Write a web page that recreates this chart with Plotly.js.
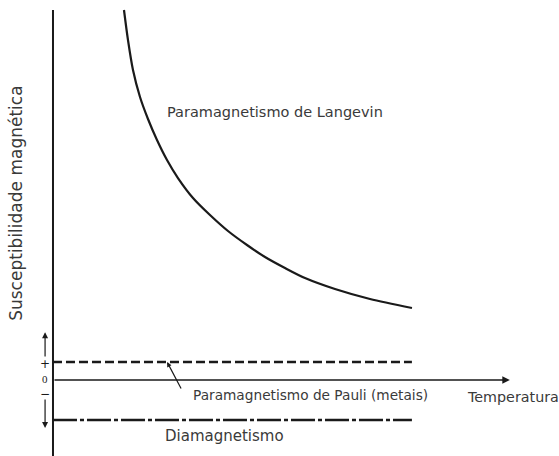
<!DOCTYPE html>
<html><head><meta charset="utf-8">
<script src="https://cdn.plot.ly/plotly-3.0.1.min.js"></script>
<style>html,body{margin:0;padding:0;background:#fff;}</style>
</head><body><div id="chart" style="width:559px;height:456px;"></div>
<script>
// Langevin paramagnetism curve (temperature, susceptibility)
const langevinT   = [1.972, 2.083, 2.222, 2.417, 2.639, 2.889, 3.167, 3.472, 3.889, 4.361, 4.861, 5.389, 5.889, 6.444, 7.0, 7.833, 8.806, 9.972];
const langevinChi = [10.278, 9.444, 8.611, 7.861, 7.25, 6.667, 6.111, 5.611, 5.056, 4.583, 4.139, 3.75, 3.417, 3.111, 2.833, 2.528, 2.25, 2.0];
// Pauli paramagnetism (constant, positive)
const pauliT   = [0, 9.97];
const pauliChi = [0.5, 0.5];
// Diamagnetism (constant, negative)
const diaT   = [0, 9.97];
const diaChi = [-1.11, -1.11];
// Labels
const labels = {
  langevin: "Paramagnetismo de Langevin",
  pauli: "Paramagnetismo de Pauli (metais)",
  dia: "Diamagnetismo",
  xTitle: "Temperatura",
  yTitle: "Susceptibilidade magnética"
};

const FONT = "'DejaVu Sans', sans-serif";
const ink = "#1a1a1a";
const txt = "#3a3a3a";

const traces = [
  {x: langevinT, y: langevinChi, mode: "lines", line: {color: ink, width: 2.2, shape: "spline", smoothing: 0.8}, hoverinfo: "skip"},
  {x: pauliT, y: pauliChi, mode: "lines", line: {color: ink, width: 2.5, dash: "9px,4px"}, hoverinfo: "skip"},
  {x: diaT, y: diaChi, mode: "lines", line: {color: ink, width: 2.5, dash: "24px,3px,4px,3px"}, hoverinfo: "skip"}
];

const layout = {
  width: 559, height: 456,
  margin: {l: 0, r: 0, t: 0, b: 0},
  paper_bgcolor: "#ffffff", plot_bgcolor: "#ffffff",
  showlegend: false,
  xaxis: {range: [-1.472, 14.056], visible: false, fixedrange: true},
  yaxis: {range: [-2.111, 10.556], visible: false, fixedrange: true},
  font: {family: FONT, color: txt, size: 13},
  shapes: [
    // vertical (susceptibility) axis
    {type: "line", xref: "x", yref: "y", x0: 0, x1: 0, y0: -2.2, y1: 10.28, line: {color: ink, width: 2}}
  ],
  annotations: [
    // horizontal (temperature) axis with arrow
    {x: 12.69, y: 0, ax: 0, ay: 0, axref: "x", ayref: "y", xref: "x", yref: "y", text: "", showarrow: true,
     arrowhead: 2, arrowsize: 1, arrowwidth: 1.5, arrowcolor: ink},
    // up and down arrows for sign
    {x: -0.22, y: 1.33, ax: -0.22, ay: 0.61, axref: "x", ayref: "y", xref: "x", yref: "y", text: "", showarrow: true,
     arrowhead: 2, arrowsize: 1, arrowwidth: 1.2, arrowcolor: ink},
    {x: -0.22, y: -1.33, ax: -0.22, ay: -0.5, axref: "x", ayref: "y", xref: "x", yref: "y", text: "", showarrow: true,
     arrowhead: 2, arrowsize: 1, arrowwidth: 1.2, arrowcolor: ink},
    {x: -0.22, y: 0.44, xref: "x", yref: "y", text: "+", showarrow: false, font: {size: 12, color: ink}},
    {x: -0.22, y: 0.03, xref: "x", yref: "y", text: "0", showarrow: false, font: {size: 11, color: ink, family: "Liberation Serif, serif"}},
    {x: -0.22, y: -0.40, xref: "x", yref: "y", text: "−", showarrow: false, font: {size: 12, color: ink}},
    // Pauli pointer
    {x: 3.17, y: 0.5, ax: 3.58, ay: -0.28, axref: "x", ayref: "y", xref: "x", yref: "y", text: "", showarrow: true,
     arrowhead: 2, arrowsize: 0.8, arrowwidth: 1.2, arrowcolor: ink},
    // text labels
    {x: 3.11, y: 7.44, xref: "x", yref: "y", xanchor: "left", yanchor: "middle", text: labels.langevin, showarrow: false, font: {size: 14.5}},
    {x: 3.83, y: -0.42, xref: "x", yref: "y", xanchor: "left", yanchor: "middle", text: labels.pauli, showarrow: false, font: {size: 13.7}},
    {x: 3.06, y: -1.56, xref: "x", yref: "y", xanchor: "left", yanchor: "middle", text: labels.dia, showarrow: false, font: {size: 15}},
    {x: 11.44, y: -0.47, xref: "x", yref: "y", xanchor: "left", yanchor: "middle", text: labels.xTitle, showarrow: false, font: {size: 14.3}},
    {x: -1.03, y: 4.92, xref: "x", yref: "y", xanchor: "center", yanchor: "middle", textangle: -90, text: labels.yTitle, showarrow: false, font: {size: 17}}
  ]
};

Plotly.newPlot("chart", traces, layout, {staticPlot: true, displayModeBar: false});
</script>
</body></html>
